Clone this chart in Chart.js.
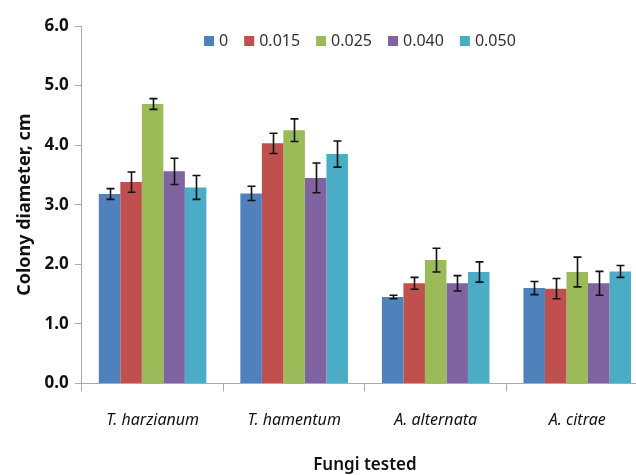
<!DOCTYPE html>
<html>
<head>
<meta charset="utf-8">
<script src="https://cdn.jsdelivr.net/npm/chart.js@4/dist/chart.umd.min.js"></script>
<style>
  html, body { margin:0; padding:0; background:#fff; overflow:hidden; }
  #wrap { width:650px; height:475px; }
</style>
</head>
<body>
<div id="wrap"><canvas id="chart" width="650" height="475"></canvas></div>
<script>
// Colony diameter (cm) per fungus, one series per concentration
const fungi = ['T. harzianum', 'T. hamentum', 'A. alternata', 'A. citrae'];
const concLabels = ['0', '0.015', '0.025', '0.040', '0.050'];
const conc0    = [3.18, 3.19, 1.45, 1.60];
const conc015  = [3.38, 4.03, 1.68, 1.59];
const conc025  = [4.69, 4.25, 2.07, 1.87];
const conc040  = [3.56, 3.45, 1.68, 1.68];
const conc050  = [3.29, 3.85, 1.87, 1.88];
// error bar half-widths
const err0   = [0.09, 0.12, 0.03, 0.11];
const err015 = [0.17, 0.17, 0.10, 0.17];
const err025 = [0.09, 0.19, 0.20, 0.25];
const err040 = [0.22, 0.25, 0.13, 0.20];
const err050 = [0.20, 0.22, 0.17, 0.10];
const yTicks = [0, 1, 2, 3, 4, 5, 6];

const colors = ['#4F81BD', '#C0504D', '#9BBB59', '#8064A2', '#4BACC6'];
const series = [conc0, conc015, conc025, conc040, conc050];
const errors = [err0, err015, err025, err040, err050];

// draws the black error bars on top of each bar
const errorBars = {
  id: 'errorBars',
  afterDatasetsDraw(chart){
    const ctx = chart.ctx, y = chart.scales.y;
    ctx.save();
    ctx.strokeStyle = '#111';
    ctx.lineWidth = 1.6;
    chart.data.datasets.forEach((ds, i)=>{
      const meta = chart.getDatasetMeta(i);
      meta.data.forEach((bar, j)=>{
        const v = ds.data[j], e = errors[i][j];
        const top = y.getPixelForValue(v + e), bot = y.getPixelForValue(v - e);
        const x = Math.round(bar.x) + 0.5;
        ctx.beginPath();
        ctx.moveTo(x, top); ctx.lineTo(x, bot);
        ctx.moveTo(x - 4, top); ctx.lineTo(x + 4, top);
        ctx.moveTo(x - 4, bot); ctx.lineTo(x + 4, bot);
        ctx.stroke();
      });
    });
    ctx.restore();
  }
};

// legend drawn inside the plot area, near the top (like the Excel original)
const innerLegend = {
  id: 'innerLegend',
  afterDraw(chart){
    const ctx = chart.ctx, area = chart.chartArea;
    const box = 10, gapText = 5, gapItem = 16;
    ctx.save();
    ctx.font = '16px "Noto Sans"';
    ctx.textBaseline = 'middle';
    const items = chart.data.datasets.map(ds=>({ text: ds.label, color: ds.backgroundColor, w: ctx.measureText(ds.label).width }));
    const total = items.reduce((a, it)=>a + box + gapText + it.w, 0) + gapItem * (items.length - 1);
    let x = (area.left + area.right) / 2 - 5 - total / 2;
    const y = area.top + 15;
    items.forEach(it=>{
      ctx.fillStyle = it.color;
      ctx.fillRect(x, y - box / 2, box, box);
      x += box + gapText;
      ctx.fillStyle = '#333';
      ctx.fillText(it.text, x, y);
      x += it.w + gapItem;
    });
    ctx.restore();
  }
};

new Chart(document.getElementById('chart').getContext('2d'), {
  type: 'bar',
  data: {
    labels: fungi,
    datasets: series.map((d, i)=>({
      label: concLabels[i], data: d, backgroundColor: colors[i],
      borderWidth: 0, barPercentage: 1, categoryPercentage: 0.76
    }))
  },
  options: {
    responsive: false, animation: false,
    layout: { padding: { top: 26, right: 2, left: 14, bottom: 0 } },
    plugins: {
      legend: { display: false },
      tooltip: { enabled: false }
    },
    scales: {
      x: {
        grid: { display: true, drawOnChartArea: false, offset: true, tickLength: 8, color: '#aaa' },
        border: { color: '#aaa' },
        ticks: { color: '#111', padding: 19, font: { family: 'Noto Sans', size: 16, style: 'italic' } },
        title: { display: true, text: 'Fungi tested', color: '#111', padding: { top: 6, bottom: 0 },
          font: { family: 'Noto Sans', size: 17, weight: '600' } }
      },
      y: {
        min: 0, max: 6,
        afterBuildTicks(scale){ scale.ticks = yTicks.map(v=>({ value: v })); },
        grid: { display: true, drawOnChartArea: false, tickLength: 7, color: '#aaa' },
        border: { color: '#aaa' },
        ticks: { color: '#111', padding: 6, callback: v => v.toFixed(1),
          font: { family: 'Noto Sans', size: 17, weight: 'bold' } },
        title: { display: true, text: 'Colony diameter, cm', color: '#111', padding: { top: 0, bottom: 3 },
          font: { family: 'Noto Sans', size: 18, weight: 'bold' } }
      }
    }
  },
  plugins: [errorBars, innerLegend]
});
</script>
</body>
</html>
